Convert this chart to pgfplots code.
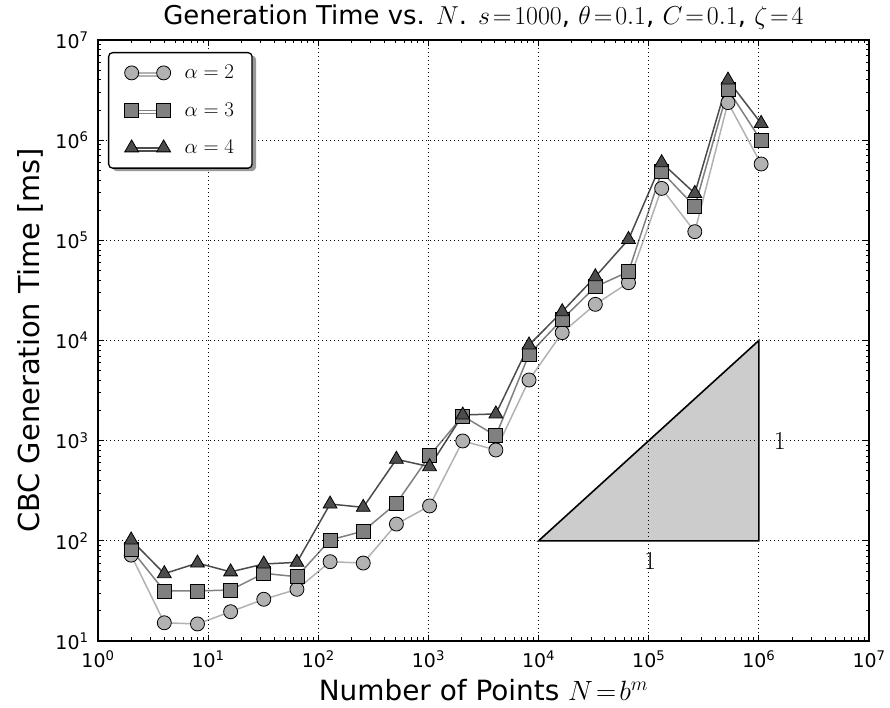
\RequirePackage{fix-cm}
\documentclass[border=0pt]{standalone}
\usepackage{pgfplots}
\usepackage{pgfplotstable}
\pgfplotsset{compat=1.18}
\usepackage{fontspec}
\setmainfont{DejaVu Sans}
\usetikzlibrary{shadows}

\definecolor{alphatwo}{gray}{0.70}
\definecolor{alphathree}{gray}{0.50}
\definecolor{alphafour}{gray}{0.30}
\definecolor{slopefill}{gray}{0.80}

% CBC generation time [ms] against number of points N = 2^m
\pgfplotstableread{
N        a2       a3       a4
2        72       82       102
4        15.2     31.6     47
8        14.8     31.6     60
16       19.6     32.3     49
32       26.1     47.4     58.7
64       32.8     43.8     61
128      61.9     102      233
256      60       125      216
512      147      237      652
1024     223      708      550
2048     993      1762     1804
4096     807      1120     1850
8192     4033     7280     9020
16384    11970    16260    19400
32768    22960    34400    43300
65536    37760    48600    102000
131072   330000   484000   596000
262144   122000   217000   294000
524288   2370000  3210000  3980000
1048576  578000   988000   1470000
}\gentime

\begin{document}
\begin{tikzpicture}
\useasboundingbox (-98bp,-67bp) rectangle (792bp,641bp);
\begin{axis}[
  at={(0bp,0bp)}, anchor=south west,
  scale only axis, width=771bp, height=601bp,
  xmode=log, ymode=log,
  xmin=1, xmax=1e7, ymin=10, ymax=1e7,
  axis on top,
  axis line style={line width=1.6bp},
  every tick/.style={black, line width=0.9bp},
  major tick length=6bp, minor tick length=3.5bp,
  grid=major,
  major grid style={black, line width=0.9bp, dash pattern=on 1bp off 3bp},
  xticklabel={10\textsuperscript{\pgfmathparse{int(round(\tick/ln(10)))}\pgfmathresult}},
  yticklabel={10\textsuperscript{\pgfmathparse{int(round(\tick/ln(10)))}\pgfmathresult}},
  tick label style={font=\fontsize{19}{19}\selectfont},
  xticklabel style={yshift=-6bp},
  yticklabel style={xshift=-6bp},
  title={Generation Time vs. $N$. $s\!=\!1000$, $\theta\!=\!0.1$, $C\!=\!0.1$, $\zeta\!=\!4$},
  every axis title/.style={at={([yshift=23bp]rel axis cs:0.5,1)}, anchor=center,
    font=\fontsize{26}{26}\selectfont},
  xlabel={Number of Points $N\!=\!b^m$},
  every axis x label/.style={at={([yshift=-49bp]rel axis cs:0.5,0)}, anchor=center,
    font=\fontsize{28}{28}\selectfont},
  ylabel={CBC Generation Time [ms]},
  every axis y label/.style={at={([xshift=-68bp]rel axis cs:0,0.5)}, anchor=center,
    rotate=90, font=\fontsize{29}{29}\selectfont},
  legend style={
    at={([xshift=10bp,yshift=-12bp]rel axis cs:0,1)}, anchor=north west,
    draw=black, line width=1.3bp, rounded corners=4bp, fill=white,
    drop shadow={shadow xshift=4bp, shadow yshift=-3bp, fill=black!40, opacity=1},
    font=\fontsize{21}{21}\selectfont,
    inner xsep=16bp, inner ysep=1.5bp, row sep=0bp,
    /tikz/column 1/.style={column sep=12bp},
  },
  legend cell align=left,
  legend image code/.code={
    \path (-5bp,-18bp) (0bp,18bp);
    \draw[mark repeat=1, mark phase=1, #1] plot coordinates {(0bp,0bp) (32bp,0bp)};
  },
]

% slope-one reference triangle
\addplot[fill=slopefill, draw=black, line width=1.6bp, forget plot]
  coordinates {(1e4,100) (1e6,100) (1e6,1e4)} -- cycle;
\node[font=\fontsize{26}{26}\selectfont] at (axis cs:1.03e5,63) {$1$};
\node[font=\fontsize{26}{26}\selectfont] at (axis cs:1.55e6,1000) {$1$};

\addplot[color=alphatwo, line width=1.5bp, mark=*, mark size=7bp,
  mark options={draw=black, fill=alphatwo, line width=0.8bp, solid, sharp corners}]
  table[x=N, y=a2] {\gentime};
\addlegendentry{$\alpha=2$}

\addplot[color=alphathree, line width=1.5bp, mark=square*, mark size=7bp,
  mark options={draw=black, fill=alphathree, line width=0.8bp, solid, sharp corners}]
  table[x=N, y=a3] {\gentime};
\addlegendentry{$\alpha=3$}

\addplot[color=alphafour, line width=1.5bp, mark=triangle*, mark size=8bp,
  mark options={draw=black, fill=alphafour, line width=0.8bp, solid, sharp corners}]
  table[x=N, y=a4] {\gentime};
\addlegendentry{$\alpha=4$}

\end{axis}
\end{tikzpicture}
\end{document}
